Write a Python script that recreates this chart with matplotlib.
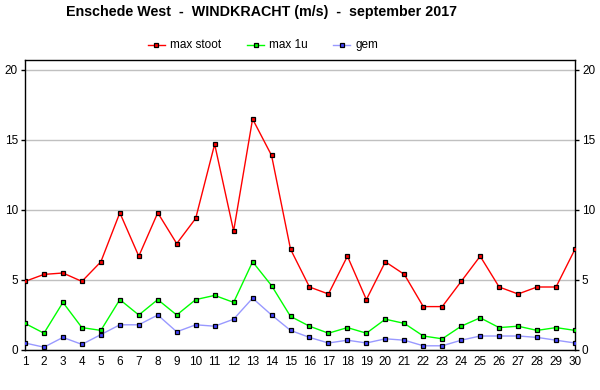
import matplotlib
matplotlib.use("Agg")
import matplotlib.pyplot as plt
from matplotlib.lines import Line2D

days = list(range(1, 31))
max_stoot = [4.9, 5.4, 5.5, 4.9, 6.3, 9.8, 6.7, 9.8, 7.6, 9.4,
             14.7, 8.5, 16.5, 13.9, 7.2, 4.5, 4.0, 6.7, 3.6, 6.3,
             5.4, 3.1, 3.1, 4.9, 6.7, 4.5, 4.0, 4.5, 4.5, 7.2]
max_1u = [1.9, 1.2, 3.4, 1.6, 1.4, 3.6, 2.5, 3.6, 2.5, 3.6,
          3.9, 3.4, 6.3, 4.6, 2.4, 1.7, 1.2, 1.6, 1.2, 2.2,
          1.9, 1.0, 0.8, 1.7, 2.3, 1.6, 1.7, 1.4, 1.6, 1.4]
gem = [0.5, 0.2, 0.9, 0.4, 1.1, 1.8, 1.8, 2.5, 1.3, 1.8,
       1.7, 2.2, 3.7, 2.5, 1.4, 0.9, 0.5, 0.7, 0.5, 0.8,
       0.7, 0.3, 0.3, 0.7, 1.0, 1.0, 1.0, 0.9, 0.7, 0.5]
series_names = ["max stoot", "max 1u", "gem"]
yticks = [0, 5, 10, 15, 20]
title = "Enschede West  -  WINDKRACHT (m/s)  -  september 2017"

plt.rcParams['font.family'] = ['Liberation Sans', 'DejaVu Sans']

fig = plt.figure(figsize=(6, 3.9), dpi=100)
ax = fig.add_axes([25/600, 40/390, 550/600, 290/390])

styles = [
    (max_stoot, '#ff0000', '#ff0000'),
    (max_1u, '#00ff00', '#00ff00'),
    (gem, '#9999ff', '#4444ff'),
]
for (vals, lc, mc), name in zip(styles[::-1], series_names[::-1]):
    ax.plot(days, vals, color=lc, lw=1.0, marker='s', ms=3.4,
            mfc=mc, mec='black', mew=0.9, label=name, zorder=3)

ax.set_xlim(1, 30)
ax.set_ylim(0, 20 + 10/14)
ax.set_xticks(days)
ax.set_xticklabels([str(d) for d in days])
ax.set_yticks(yticks)
ax.grid(axis='y', color='#c0c0c0', lw=1.0)
ax.set_axisbelow(True)
ax.tick_params(axis='x', length=0, pad=4, labelsize=8.5)
ax.tick_params(axis='y', length=3, width=1, pad=2, labelsize=8.5,
               left=True, right=True, labelleft=True, labelright=True)
for s in ax.spines.values():
    s.set_linewidth(1.0)
    s.set_color('black')

fig.text(262/600, 1 - 12/390, title, ha='center', va='center',
         fontsize=10.3, fontweight='bold')

# legend
legend_items = [
    (series_names[0], '#ff0000', '#ff0000', 148),
    (series_names[1], '#00ff00', '#00ff00', 247),
    (series_names[2], '#9999ff', '#4444ff', 333),
]
ly = 1 - 45/390
for name, lc, mc, x0 in legend_items:
    ln = Line2D([x0/600, (x0+17)/600], [ly, ly], transform=fig.transFigure,
                color=lc, lw=1.0)
    fig.add_artist(ln)
    mk = Line2D([(x0+8.5)/600], [ly], transform=fig.transFigure,
                marker='s', ms=3.4, mfc=mc, mec='black', mew=0.9, lw=0)
    fig.add_artist(mk)
    fig.text((x0+22)/600, ly, name, ha='left', va='center', fontsize=8.5)

fig.savefig("out.png", dpi=100)
